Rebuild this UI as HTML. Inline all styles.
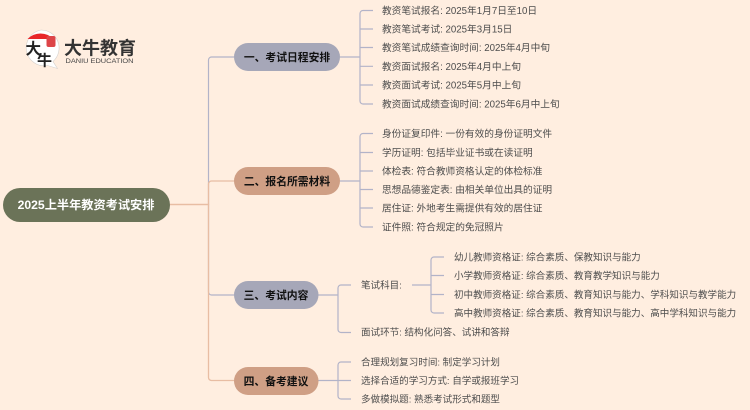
<!DOCTYPE html>
<html><head><meta charset="utf-8">
<style>
html,body{margin:0;padding:0;background:#ffeee0;overflow:hidden}
svg{display:block;filter:blur(.3px)}
text{font-family:"Liberation Sans","Noto Sans CJK SC",sans-serif}
.l{font-size:9.55px;fill:#4d4d4d}
.t{font-size:9.7px;fill:#4d4d4d}
.b{font-size:10.8px;font-weight:700;fill:#111;text-anchor:middle}
.c{fill:none;stroke:#b2b3c8;stroke-width:1.2}
.o{fill:none;stroke:#e8bda3;stroke-width:1.3}
</style></head><body>
<svg width="750" height="410" viewBox="0 0 750 410" xmlns="http://www.w3.org/2000/svg">
<rect width="750" height="410" fill="#ffeee0"/>

<!-- logo -->
<path d="M41 30a18 18 0 0 1 12 31.500 L57.500 68.500 L47.500 65.500 A18 18 0 1 1 41 30Z" fill="#fff" stroke="#d5d0cc" stroke-width=".6"/>
<path d="M27.500 39a18 18 0 0 1 26 0Z" fill="#e8262a"/>
<rect x="46.500" y="36" width="9" height="11" rx="2" fill="#dd4548"/>
<text x="25.500" y="54" font-size="15.500" font-weight="700" fill="#222">大</text>
<text x="37" y="65.500" font-size="15" font-weight="700" fill="#222">牛</text>
<text x="64" y="54.500" font-size="18" font-weight="700" fill="#333" textLength="72" lengthAdjust="spacingAndGlyphs">大牛教育</text>
<text x="65.500" y="63" font-size="6.800" fill="#444" textLength="68" lengthAdjust="spacingAndGlyphs">DANIU EDUCATION</text>

<!-- trunk connectors -->
<path class="c" d="M208.500 205V60a3 3 0 0 1 3-3H234"/>
<path class="c" d="M208.500 205V292a3 3 0 0 0 3 3H234"/>
<path class="o" d="M170 204.500H208.500V184a3 3 0 0 1 3-3H234"/>
<path class="o" d="M170 204.500H208.500V377.500a3 3 0 0 0 3 3H234"/>

<!-- branch 1 -->
<path class="c" d="M340 57H360M373 10.500H363a3 3 0 0 0-3 3V101a3 3 0 0 0 3 3H373M360 29H373M360 47.500H373M360 66.300H373M360 85H373"/>
<!-- branch 2 -->
<path class="c" d="M340 181H360M373 133.500H363a3 3 0 0 0-3 3V224a3 3 0 0 0 3 3H373M360 152.500H373M360 171H373M360 189.500H373M360 208H373"/>
<!-- branch 3 -->
<path class="c" d="M318 295H338M351 285H341a3 3 0 0 0-3 3V329.500a3 3 0 0 0 3 3H351"/>
<path class="c" d="M412 285H431M444 257H434a3 3 0 0 0-3 3V310a3 3 0 0 0 3 3H444M431 275.500H444M431 294.500H444"/>
<!-- branch 4 -->
<path class="c" d="M318 380.500H351M351 362H341a3 3 0 0 0-3 3V396a3 3 0 0 0 3 3H351"/>

<!-- nodes -->
<rect x="3" y="188" width="167" height="34" rx="17" fill="#6b7358"/>
<text x="86" y="209" font-size="12.200" font-weight="700" fill="#fff" text-anchor="middle">2025上半年教资考试安排</text>
<rect x="234" y="43" width="106" height="28" rx="14" fill="#a6a7b8"/>
<text class="b" x="287" y="61">一、考试日程安排</text>
<rect x="234" y="167" width="106" height="28" rx="14" fill="#cf9f85"/>
<text class="b" x="287" y="185">二、报名所需材料</text>
<rect x="234" y="281" width="84.500" height="28" rx="14" fill="#a6a7b8"/>
<text class="b" x="276" y="299">三、考试内容</text>
<rect x="234" y="367" width="84.500" height="28" rx="14" fill="#cf9f85"/>
<text class="b" x="276" y="385">四、备考建议</text>

<!-- leaves -->
<text class="t" x="382" y="14">教资笔试报名: 2025年1月7日至10日</text>
<text class="t" x="382" y="32.500">教资笔试考试: 2025年3月15日</text>
<text class="t" x="382" y="51">教资笔试成绩查询时间: 2025年4月中旬</text>
<text class="t" x="382" y="70">教资面试报名: 2025年4月中上旬</text>
<text class="t" x="382" y="88.500">教资面试考试: 2025年5月中上旬</text>
<text class="t" x="382" y="107.500">教资面试成绩查询时间: 2025年6月中上旬</text>

<text class="t" x="382" y="137">身份证复印件: 一份有效的身份证明文件</text>
<text class="t" x="382" y="156">学历证明: 包括毕业证书或在读证明</text>
<text class="t" x="382" y="174.500">体检表: 符合教师资格认定的体检标准</text>
<text class="t" x="382" y="193">思想品德鉴定表: 由相关单位出具的证明</text>
<text class="t" x="382" y="211.500">居住证: 外地考生需提供有效的居住证</text>
<text class="t" x="382" y="230.500">证件照: 符合规定的免冠照片</text>

<text class="l" x="361" y="288.500">笔试科目:</text>
<text class="l" x="454" y="260.500">幼儿教师资格证: 综合素质、保教知识与能力</text>
<text class="l" x="454" y="279">小学教师资格证: 综合素质、教育教学知识与能力</text>
<text class="l" x="454" y="298">初中教师资格证: 综合素质、教育知识与能力、学科知识与教学能力</text>
<text class="l" x="454" y="316.500">高中教师资格证: 综合素质、教育知识与能力、高中学科知识与能力</text>
<text class="l" x="361" y="335.500">面试环节: 结构化问答、试讲和答辩</text>

<text class="l" x="361" y="365.500">合理规划复习时间: 制定学习计划</text>
<text class="l" x="361" y="384">选择合适的学习方式: 自学或报班学习</text>
<text class="l" x="361" y="402.500">多做模拟题: 熟悉考试形式和题型</text>
</svg>
</body></html>
